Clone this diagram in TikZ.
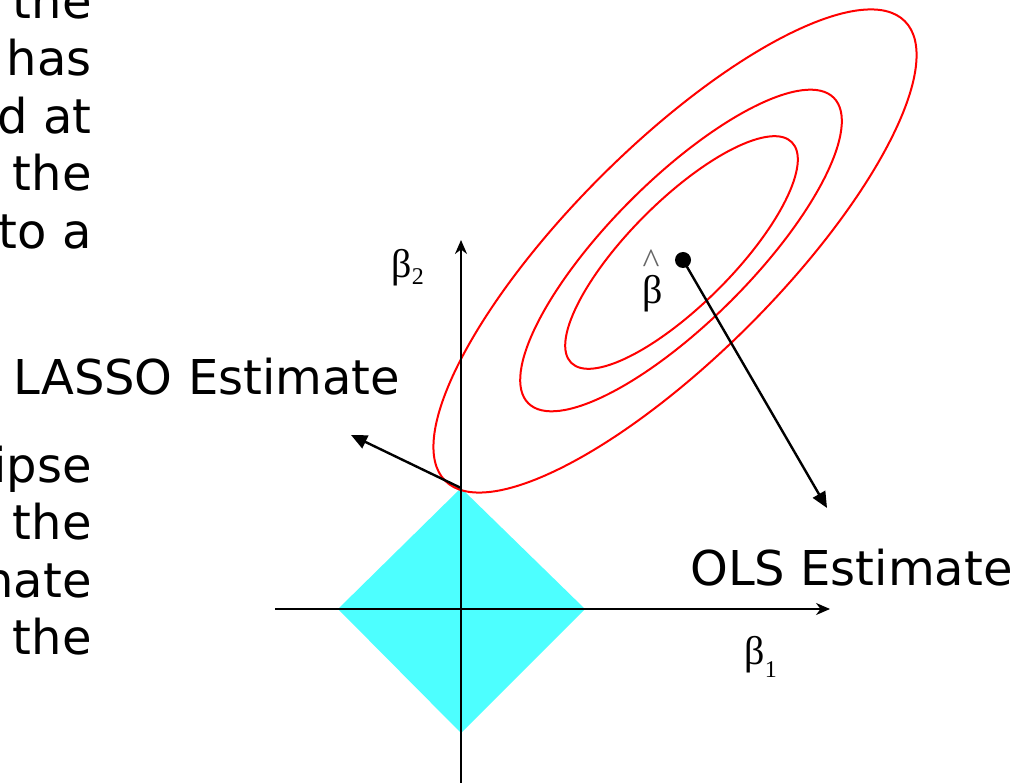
\documentclass[tikz,border=0pt]{standalone}
\usepackage{fontspec}
\newfontfamily\vfont{DejaVu Sans}
\newfontfamily\gfont{Liberation Serif}
\usetikzlibrary{arrows.meta}
\definecolor{diamondcyan}{RGB}{77,255,255}
\definecolor{contourred}{RGB}{255,0,0}
\tikzset{
  bodytext/.style={inner sep=0pt, font=\vfont\fontsize{24}{28.75}\selectfont},
  leftline/.style={bodytext, anchor=base east},
  greeklabel/.style={inner sep=0pt, anchor=base west, font=\gfont\fontsize{20}{24}\selectfont},
  axis/.style={line width=1.1pt, -{Stealth[length=7pt,width=6pt]}},
  pointer/.style={line width=1.2pt, -{Triangle[length=8pt,width=7pt]}},
  contour/.style={draw=contourred, line width=1pt},
}
\begin{document}
\begin{tikzpicture}[x=0.5pt,y=0.5pt]
\useasboundingbox (0,0) rectangle (1020,782);
% left slide text fragments
\node[leftline] (l1) at (92,763.5) {the};
\node[leftline] (l2) at (92,706) {has};
\node[leftline] (l3) at (92,648.5) {d at};
\node[leftline] (l4) at (92,591) {the};
\node[leftline] (l5) at (92,533.5) {to a};
\node[leftline] (l6) at (92,300) {ipse};
\node[leftline] (l7) at (92,242.5) {the};
\node[leftline] (l8) at (92,185) {nate};
\node[leftline] (l9) at (92,127.5) {the};
% constraint region
\coordinate (dtop) at (461,294);
\coordinate (dright) at (585,173);
\coordinate (dbottom) at (461,49);
\coordinate (dleft) at (338,173);
\fill[diamondcyan] (dtop) -- (dright) -- (dbottom) -- (dleft) -- cycle;
% contours
\coordinate (c1) at (675,531);
\coordinate (c2) at (681,531.5);
\coordinate (c3) at (681.5,529.5);
\draw[contour, rotate around={45:(c1)}] (c1) ellipse [x radius=325, y radius=105];
\draw[contour, rotate around={45:(c2)}] (c2) ellipse [x radius=216, y radius=71];
\draw[contour, rotate around={45:(c3)}] (c3) ellipse [x radius=156, y radius=52];
% axes
\coordinate (yfoot) at (461,-5);
\coordinate (ytip) at (461,542);
\coordinate (xfoot) at (275,173);
\coordinate (xtip) at (830,173);
\draw[axis] (yfoot) -- (ytip);
\draw[axis] (xfoot) -- (xtip);
\node[greeklabel] (b2) at (391,504) {β\raisebox{-3.5pt}{\fontsize{12}{14}\selectfont 2}};
\node[greeklabel] (b1) at (744,118) {β\raisebox{-6.5pt}{\fontsize{12}{14}\selectfont 1}};
% OLS point
\coordinate (olsdot) at (683,522);
\fill (olsdot) circle[radius=4pt];
\node[greeklabel] (bhat) at (642,478) {β};
\node[inner sep=0pt, font=\gfont\fontsize{18}{18}\selectfont, text=black!60] (hat) at (651,520) {\char"5E};
% labels and pointers
\node[bodytext, anchor=base west] (lasso) at (13,387) {LASSO Estimate};
\node[bodytext, anchor=base west] (olslabel) at (690,197) {OLS Estimate};
\coordinate (lassotip) at (351,347);
\coordinate (olstip) at (827,274);
\draw[pointer] (dtop) -- (lassotip);
\draw[pointer] (olsdot) -- (olstip);
\end{tikzpicture}
\end{document}
